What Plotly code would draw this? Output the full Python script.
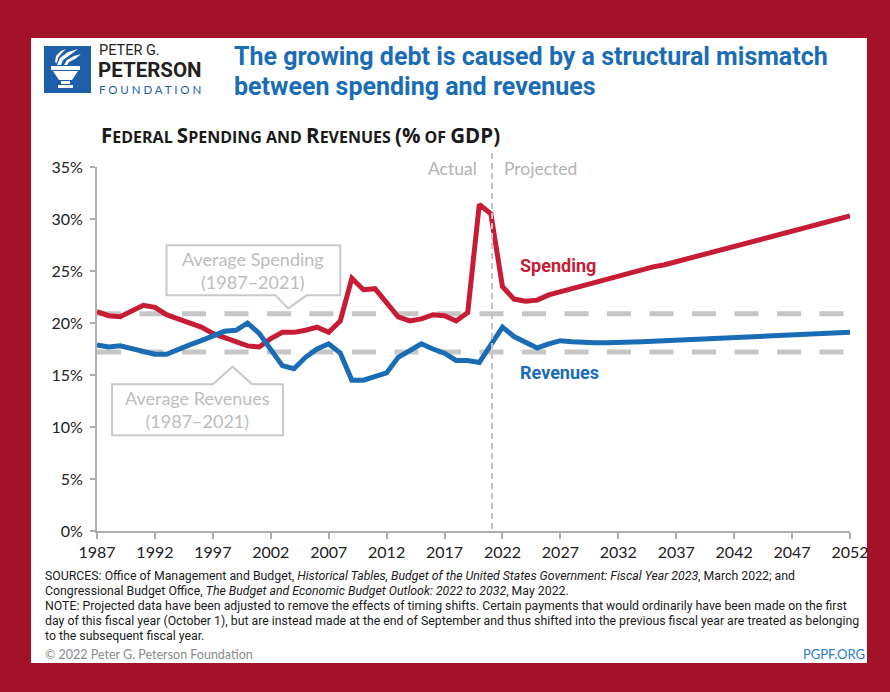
import plotly.graph_objects as go

# ---------------- data ----------------
years = list(range(1987, 2053))
spending = [21.1, 20.7, 20.6, 21.2, 21.7, 21.5, 20.8, 20.4, 20.0, 19.6,
            19.0, 18.6, 18.2, 17.8, 17.7, 18.5, 19.1, 19.1, 19.3, 19.6,
            19.1, 20.2, 24.3, 23.2, 23.3, 22.0, 20.6, 20.2, 20.4, 20.8,
            20.7, 20.2, 21.0, 31.4, 30.5, 23.5, 22.3, 22.1, 22.2, 22.7,
            23.0, 23.3, 23.6, 24.0, 24.3, 24.6, 24.85, 25.1, 25.4, 25.6,
            25.9, 26.2, 26.5, 26.7, 27.0, 27.3, 27.6, 28.0, 28.3, 28.6,
            28.9, 29.2, 29.4, 29.7, 30.0, 30.3]
revenues = [17.9, 17.7, 17.8, 17.5, 17.3, 17.0, 17.0, 17.5, 17.9, 18.3,
            18.7, 19.2, 19.3, 20.0, 19.0, 17.4, 15.9, 15.6, 16.7, 17.5,
            18.0, 17.1, 14.5, 14.5, 14.8, 15.2, 16.7, 17.4, 18.0, 17.5,
            17.1, 16.4, 16.4, 16.2, 17.9, 19.6, 18.7, 18.1, 17.6, 18.0,
            18.3, 18.2, 18.1, 18.1, 18.1, 18.1, 18.15, 18.2, 18.25, 18.3,
            18.35, 18.4, 18.4, 18.45, 18.5, 18.55, 18.6, 18.6, 18.65, 18.7,
            18.75, 18.8, 18.85, 18.9, 19.0, 19.1]
avg_years = [1987, 2052]
avg_spending = 20.9
avg_revenues = 17.2
x_ticks = list(range(1987, 2053, 5))
y_ticks = [0, 5, 10, 15, 20, 25, 30, 35]
y_tick_labels = [f"{v}%" for v in y_ticks]
split_year = 2021.1

assert len(spending) == len(years) == len(revenues)

# ---------------- layout geometry ----------------
W_FIG, H_FIG = 890, 692
ML, MR, MT, MB = 97, 40, 167, 161
PW = W_FIG - ML - MR
PH = H_FIG - MT - MB


def px(x):
    return (x - ML) / PW


def py(y):
    return (H_FIG - MB - y) / PH


RED = "#c61c35"
BLUE = "#1a6db5"
GREY_DASH = "#c6c6c6"
BG_RED = "#a31229"

fig = go.Figure()

fig.add_trace(go.Scatter(x=avg_years, y=[avg_spending] * 2, mode="lines",
                         line=dict(color=GREY_DASH, width=5, dash="24px,18.5px"),
                         hoverinfo="skip", showlegend=False))
fig.add_trace(go.Scatter(x=avg_years, y=[avg_revenues] * 2, mode="lines",
                         line=dict(color=GREY_DASH, width=5, dash="24px,18.5px"),
                         hoverinfo="skip", showlegend=False))
fig.add_trace(go.Scatter(x=years, y=spending, mode="lines", name="Spending",
                         line=dict(color=RED, width=5), showlegend=False))
fig.add_trace(go.Scatter(x=years, y=revenues, mode="lines", name="Revenues",
                         line=dict(color=BLUE, width=5), showlegend=False))

shapes = []
# white panel
shapes.append(dict(type="rect", xref="paper", yref="paper",
                   x0=px(31), x1=px(867), y0=py(663), y1=py(38),
                   fillcolor="white", line=dict(width=0), layer="below"))
# actual / projected divider
shapes.append(dict(type="line", xref="x", yref="paper",
                   x0=split_year, x1=split_year, y0=py(529), y1=py(152),
                   line=dict(color="#c4c4c4", width=2, dash="6px,4px")))
# callout boxes
shapes.append(dict(type="path", xref="x", yref="y",
                   path="M 1993.0,27.47 L 2008.0,27.47 L 2008.0,22.66 L 2005.1,22.66 "
                        "L 2003.5,21.4 L 2002.4,22.66 L 1993.0,22.66 Z",
                   fillcolor="white", line=dict(color="#c9c9c9", width=2), layer="above"))
shapes.append(dict(type="path", xref="x", yref="y",
                   path="M 1988.3,14.1 L 1997.0,14.1 L 1998.7,15.8 L 2000.4,14.1 "
                        "L 2003.05,14.1 L 2003.05,9.2 L 1988.3,9.2 Z",
                   fillcolor="white", line=dict(color="#c9c9c9", width=2), layer="above"))

# logo: blue square + torch
LOGO_BLUE = "#1d5fa8"
shapes.append(dict(type="rect", xref="paper", yref="paper",
                   x0=px(44), x1=px(91), y0=py(93), y1=py(46),
                   fillcolor=LOGO_BLUE, line=dict(width=0), layer="above"))


def ppath(points):
    s = "M " + " L ".join(f"{px(a):.5f},{py(b):.5f}" for a, b in points) + " Z"
    return s


torch_parts = [
    [(51, 66), (80, 66), (80, 70), (51, 70)],                # rim
    [(53, 71), (78, 71), (72, 80), (59, 80)],                # bowl
    [(61, 81), (70, 81), (70, 84), (61, 84)],                # stem
    [(58, 85), (73, 85), (73, 88), (58, 88)],                # base
    [(57, 65), (60, 58), (68, 52), (78, 49), (70, 55), (63, 60), (61, 65)],  # flame 1
    [(64, 65), (67, 60), (74, 56), (81, 54), (75, 59), (69, 62), (67, 65)],  # flame 2
    [(55, 62), (56, 56), (61, 51), (66, 49), (61, 54), (58, 58), (57, 63)],  # flame 3
]
for pts in torch_parts:
    shapes.append(dict(type="path", xref="paper", yref="paper", path=ppath(pts),
                       fillcolor="white", line=dict(width=0), layer="above"))

annotations = []


def add_text(text, x, y, size, color, family, xanchor="left", yanchor="middle",
             ref="paper", align="left"):
    f = dict(size=size, color=color, family=family)
    if ref == "paper":
        xx, yy, xr, yr = px(x), py(y), "paper", "paper"
    else:
        xx, yy, xr, yr = x, y, "x", "y"
    annotations.append(dict(text=text, x=xx, y=yy, xref=xr, yref=yr,
                            xanchor=xanchor, yanchor=yanchor, showarrow=False,
                            font=f, align=align))


NARROW = "Roboto, Liberation Sans, sans-serif"
LATO = "Lato, Open Sans, sans-serif"
OPEN = "Open Sans, Lato, sans-serif"

# logo text
add_text("PETER G.", 97, 50, 14.5, "#231f20", NARROW)
add_text("<b>PETERSON</b>", 96, 70, 20.5, "#231f20", NARROW)
add_text("F O U N D A T I O N", 97, 89.5, 11.5, LOGO_BLUE, LATO)

# title
add_text("<b>The growing debt is caused by a structural mismatch</b>", 232, 57, 25, BLUE, NARROW)
add_text("<b>between spending and revenues</b>", 232, 87, 25, BLUE, NARROW)

# subtitle in small caps
B = "<span style='font-size:20.5px'>{}</span>"
subtitle = (B.format("F") + "EDERAL " + B.format("S") + "PENDING AND " + B.format("R")
            + "EVENUES " + B.format("(%") + " OF " + B.format("GDP)"))
add_text("<b>" + subtitle + "</b>", 99, 135, 16, "#1a1a1a", OPEN)

# actual / projected
add_text("Actual", 479, 168, 17.5, "#b3b3b3", LATO, xanchor="right")
add_text("Projected", 502, 168, 17.5, "#b3b3b3", LATO, xanchor="left")

# series labels
add_text("<b>Spending</b>", 2026.8, 25.5, 18, RED, NARROW, xanchor="center", ref="data")
add_text("<b>Revenues</b>", 2026.9, 15.2, 18, BLUE, NARROW, xanchor="center", ref="data")

# callout texts
add_text("Average Spending<br>(1987–2021)", 2000.5, 25.05, 18, "#bdbdbd", LATO,
         xanchor="center", ref="data", align="center")
add_text("Average Revenues<br>(1987–2021)", 1995.65, 11.65, 18, "#bdbdbd", LATO,
         xanchor="center", ref="data", align="center")

# footer
footer_lines = [
    "SOURCES: Office of Management and Budget, <i>Historical Tables, Budget of the United States Government: Fiscal Year 2023</i>, March 2022; and",
    "Congressional Budget Office, <i>The Budget and Economic Budget Outlook: 2022 to 2032</i>, May 2022.",
    "NOTE: Projected data have been adjusted to remove the effects of timing shifts. Certain payments that would ordinarily have been made on the first",
    "day of this fiscal year (October 1), but are instead made at the end of September and thus shifted into the previous fiscal year are treated as belonging",
    "to the subsequent fiscal year.",
]
for i, line in enumerate(footer_lines):
    add_text(line, 43, 576 + 15 * i, 12.3, "#1a1a1a", NARROW)
add_text("© 2022 Peter G. Peterson Foundation", 43, 654, 12.5, "#8a8a8a", LATO)
add_text("PGPF.ORG", 867, 654, 13, "#2b7cc0", LATO, xanchor="right")

fig.update_layout(
    width=W_FIG, height=H_FIG,
    margin=dict(l=ML, r=MR, t=MT, b=MB, pad=0),
    paper_bgcolor=BG_RED, plot_bgcolor="white",
    shapes=shapes, annotations=annotations,
    showlegend=False, hovermode=False,
    font=dict(family=LATO, color="#222222"),
)
fig.update_xaxes(range=[1987, 2052], tickvals=x_ticks, showgrid=False, zeroline=False,
                 showline=True, linecolor="#adadad", linewidth=2,
                 ticks="outside", ticklen=6, tickwidth=2, tickcolor="#adadad",
                 tickfont=dict(size=16, color="#222222", family=LATO))
fig.update_yaxes(range=[0, 35], tickvals=y_ticks, ticktext=y_tick_labels, showgrid=False,
                 zeroline=False, showline=True, linecolor="#adadad", linewidth=2,
                 ticks="outside", ticklen=5, tickwidth=2, tickcolor="#adadad",
                 ticklabelstandoff=4,
                 tickfont=dict(size=16, color="#222222", family=LATO))

fig.write_html("out.html")
